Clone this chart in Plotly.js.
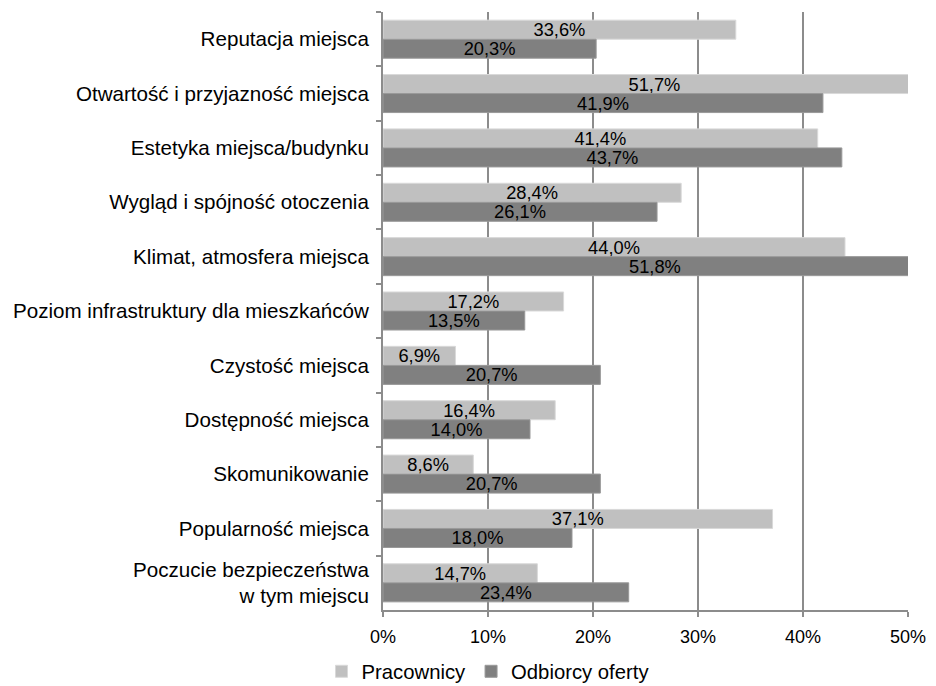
<!DOCTYPE html>
<html>
<head>
<meta charset="utf-8">
<script src="https://cdn.plot.ly/plotly-3.0.1.min.js"></script>
<style>html,body{margin:0;padding:0;background:#fff;}#chart{width:936px;height:686px;}</style>
</head>
<body>
<div id="chart"></div>
<script>
var categories = [
  "Reputacja miejsca",
  "Otwartość i przyjazność miejsca",
  "Estetyka miejsca/budynku",
  "Wygląd i spójność otoczenia",
  "Klimat, atmosfera miejsca",
  "Poziom infrastruktury dla mieszkańców",
  "Czystość miejsca",
  "Dostępność miejsca",
  "Skomunikowanie",
  "Popularność miejsca",
  "Poczucie bezpieczeństwa<br>w tym miejscu"
];
var pracownicy = [33.6, 51.7, 41.4, 28.4, 44.0, 17.2, 6.9, 16.4, 8.6, 37.1, 14.7];
var odbiorcy = [20.3, 41.9, 43.7, 26.1, 51.8, 13.5, 20.7, 14.0, 20.7, 18.0, 23.4];
var seriesNames = ["Pracownicy", "Odbiorcy oferty"];
var tickVals = [0, 10, 20, 30, 40, 50];
var tickText = ["0%", "10%", "20%", "30%", "40%", "50%"];

function fmt(v) { return v.toFixed(1).replace(".", ",") + "%"; }

var font = "Liberation Sans, Arial, sans-serif";
var traces = [
  {
    type: "bar", orientation: "h", name: seriesNames[0],
    y: categories, x: pracownicy,
    marker: {color: "#c0c0c0", line: {color: "#d9d9d9", width: 1}},
    text: pracownicy.map(fmt), textposition: "inside", insidetextanchor: "middle",
    textfont: {family: font, size: 18.3, color: "#000"}, constraintext: "none",
    hoverinfo: "none"
  },
  {
    type: "bar", orientation: "h", name: seriesNames[1],
    y: categories, x: odbiorcy,
    marker: {color: "#808080", line: {color: "#999999", width: 1}},
    text: odbiorcy.map(fmt), textposition: "inside", insidetextanchor: "middle",
    textfont: {family: font, size: 18.3, color: "#000"}, constraintext: "none",
    hoverinfo: "none"
  }
];

var layout = {
  width: 936, height: 686,
  margin: {l: 383, r: 28, t: 12, b: 76, pad: 0, autoexpand: false},
  paper_bgcolor: "#fff", plot_bgcolor: "#fff",
  font: {family: font, color: "#000"},
  barmode: "group", bargap: 0.3, bargroupgap: 0,
  showlegend: true,
  legend: {
    orientation: "h", xref: "paper", yref: "paper",
    x: 0.2, xanchor: "center", y: -0.103, yanchor: "middle",
    font: {family: font, size: 20.3, color: "#000"},
    traceorder: "normal"
  },
  xaxis: {
    range: [0, 50], tickvals: tickVals, ticktext: tickText,
    showgrid: true, gridcolor: "#8c8c8c", gridwidth: 2,
    showline: true, linecolor: "#8c8c8c", linewidth: 2,
    ticks: "outside", ticklen: 5, tickcolor: "#8c8c8c", tickwidth: 2,
    tickfont: {family: font, size: 18, color: "#000"},
    ticklabelstandoff: 4,
    zeroline: false, fixedrange: true, automargin: false
  },
  yaxis: {
    type: "category", autorange: "reversed",
    showline: true, linecolor: "#8c8c8c", linewidth: 2,
    ticks: "outside", ticklen: 5, tickcolor: "#8c8c8c", tickwidth: 2,
    tickson: "boundaries", showgrid: false,
    tickfont: {family: font, size: 20.6, color: "#000"},
    ticklabelstandoff: 8, fixedrange: true, automargin: false
  }
};

Plotly.newPlot("chart", traces, layout, {displayModeBar: false, staticPlot: true});
</script>
</body>
</html>
